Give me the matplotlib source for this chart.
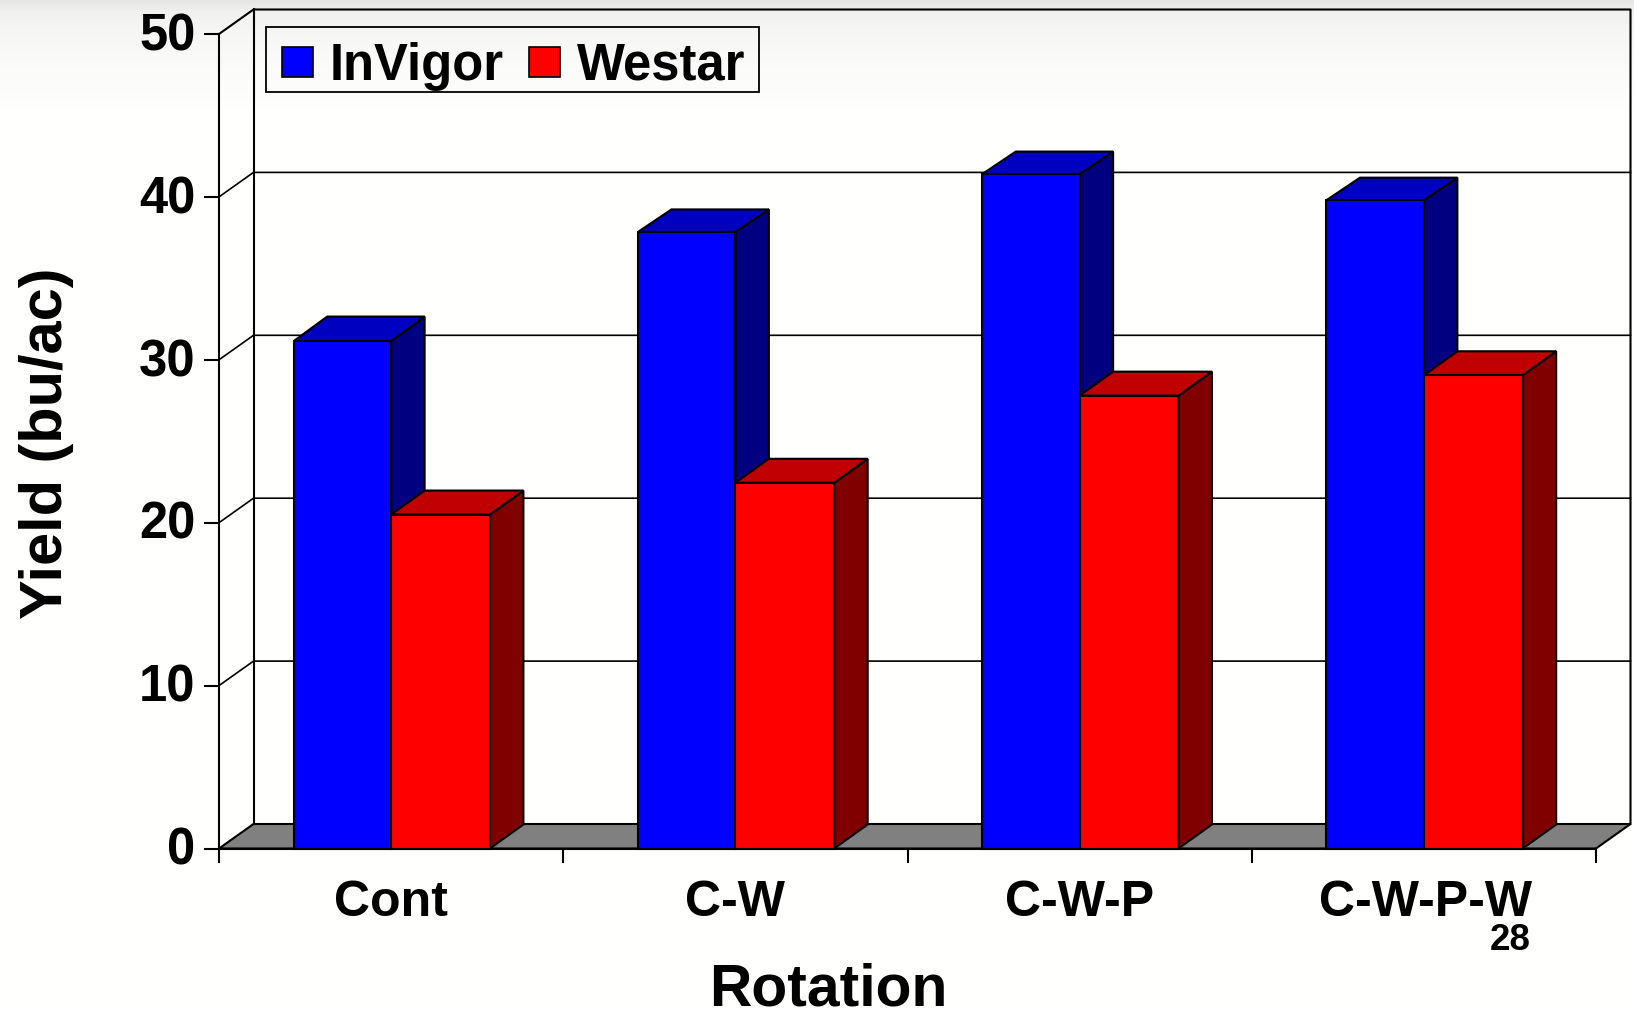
import numpy as np
import matplotlib
matplotlib.use("Agg")
import matplotlib.pyplot as plt
from matplotlib.patches import Polygon, Rectangle
from matplotlib.transforms import ScaledTranslation

plt.rcParams['font.family'] = ['Liberation Sans', 'DejaVu Sans']
plt.rcParams['font.weight'] = 'bold'
plt.rcParams['ytick.alignment'] = 'center_baseline'

categories = ["Cont", "C-W", "C-W-P", "C-W-P-W"]
invigor = [31.15, 37.85, 41.4, 39.8]
westar = [20.5, 22.45, 27.8, 29.05]
yticks = [0, 10, 20, 30, 40, 50]

W, H = 1634, 1010
L, R, Y0, Y50 = 219, 1596, 848.5, 34
fig = plt.figure(figsize=(W / 100, H / 100), dpi=100, facecolor='white')

# faint page backdrop at the top
bg = fig.add_axes([0, 0, 1, 1], zorder=-1)
rows = np.arange(H)
shade = np.interp(rows, [0, 12, 35, 70, 110], [230, 241, 247, 251, 255])
img = np.stack([shade, shade, shade * 0.995], axis=-1).astype(np.uint8)[:, None, :]
bg.imshow(img, aspect='auto', extent=(0, 1, 0, 1))
bg.axis('off')

ax = fig.add_axes([L / W, 1 - Y0 / H, (R - L) / W, (Y0 - Y50) / H])
ax.patch.set_visible(False)
ax.set_xlim(0, 4)
ax.set_ylim(0, 50)
px_x = 4 / (R - L)
px_y = 50 / (Y0 - Y50)
DX, DY = 34.5 * px_x, 24.5 * px_y
LW = 1.5

# floor and back wall
ax.add_patch(Polygon([(0, 0), (4, 0), (4 + DX, DY), (DX, DY)], closed=True,
                     fc='#808080', ec='black', lw=LW, clip_on=False, zorder=1))
for v in yticks[1:-1]:
    ax.plot([0, DX, 4 + DX], [v, v + DY, v + DY], color='black', lw=1.2, clip_on=False, zorder=1)
ax.plot([0, DX, 4 + DX, 4 + DX], [50, 50 + DY, 50 + DY, DY], color='black', lw=LW, clip_on=False, zorder=1)
ax.plot([DX, DX], [DY, 50 + DY], color='black', lw=LW, clip_on=False, zorder=1)


def bar3d(x0, x1, h, front, top, side, z, dy):
    dx = 33.5 * px_x
    ax.bar(x0, h, width=x1 - x0, align='edge', color=front, edgecolor='black', lw=LW,
           clip_on=False, zorder=z + 0.2)
    ax.add_patch(Polygon([(x1, 0), (x1 + dx, dy), (x1 + dx, h + dy), (x1, h)], closed=True,
                         fc=side, ec='black', lw=LW, clip_on=False, zorder=z))
    ax.add_patch(Polygon([(x0, h), (x0 + dx, h + dy), (x1 + dx, h + dy), (x1, h)], closed=True,
                         fc=top, ec='black', lw=LW, clip_on=False, zorder=z + 0.1))


for i in range(len(categories)):
    blue_dy = (24.5 if i == 0 else 22.5) * px_y
    bar3d(i + 0.217, i + 0.5, invigor[i], '#0000ff', '#0000c0', '#000080', 2 + i, blue_dy)
    bar3d(i + 0.5, i + 0.787, westar[i], '#ff0000', '#c00000', '#800000', 2.5 + i, 24 * px_y)

# axes, ticks, labels
for s in ['top', 'right']:
    ax.spines[s].set_visible(False)
for s in ['left', 'bottom']:
    ax.spines[s].set_linewidth(LW)
    ax.spines[s].set_zorder(20)
ax.set_yticks(yticks)
ax.tick_params(axis='y', length=11, width=LW, pad=6, labelsize=36.5)
ax.set_xticks(range(5))
ax.set_xticklabels([])
ax.tick_params(axis='x', which='major', length=10, width=LW)
ax.set_xticks([i + 0.5 for i in range(4)], categories, minor=True)
ax.tick_params(axis='x', which='minor', length=0, pad=23, labelsize=36)

for lab in ax.get_yticklabels():
    lab.set_transform(lab.get_transform() + ScaledTranslation(0, 2 / 72, fig.dpi_scale_trans))
last = ax.get_xticklabels(minor=True)[-1]
last.set_transform(last.get_transform() + ScaledTranslation(1 / 72, 0, fig.dpi_scale_trans))

fig.text(1510.5 / W, 1 - 950 / H, "28", fontsize=26.5, ha='center', va='baseline')
fig.text(828 / W, 1 - 1005 / H, "Rotation", fontsize=42.3, ha='center', va='baseline')
fig.text(62 / W, 1 - 443 / H, "Yield (bu/ac)", fontsize=42.8, rotation=90, ha='center', va='baseline',
         rotation_mode='anchor')

handles = [Rectangle((0, 0), 1, 1, fc='#0000ff', ec='black', lw=1.2),
           Rectangle((0, 0), 1, 1, fc='#ff0000', ec='black', lw=1.2)]
leg = ax.legend(handles, ["InVigor", "Westar"], ncol=2, prop={'size': 36.5, 'weight': 'bold'},
                loc='upper left', bbox_to_anchor=(267 / W, 1 - 26.7 / H), bbox_transform=fig.transFigure,
                frameon=False, borderaxespad=0,
                handlelength=0.6, handleheight=0.56, handletextpad=0.34, columnspacing=0.5,
                borderpad=0.3)
leg.set_zorder(30)
fig.add_artist(Rectangle((265.5 / W, 1 - 92 / H), (759 - 265.5) / W, (92 - 26.7) / H,
                         transform=fig.transFigure, fc='none', ec='black', lw=1.3, zorder=30))

fig.savefig("out.png", dpi=100)
